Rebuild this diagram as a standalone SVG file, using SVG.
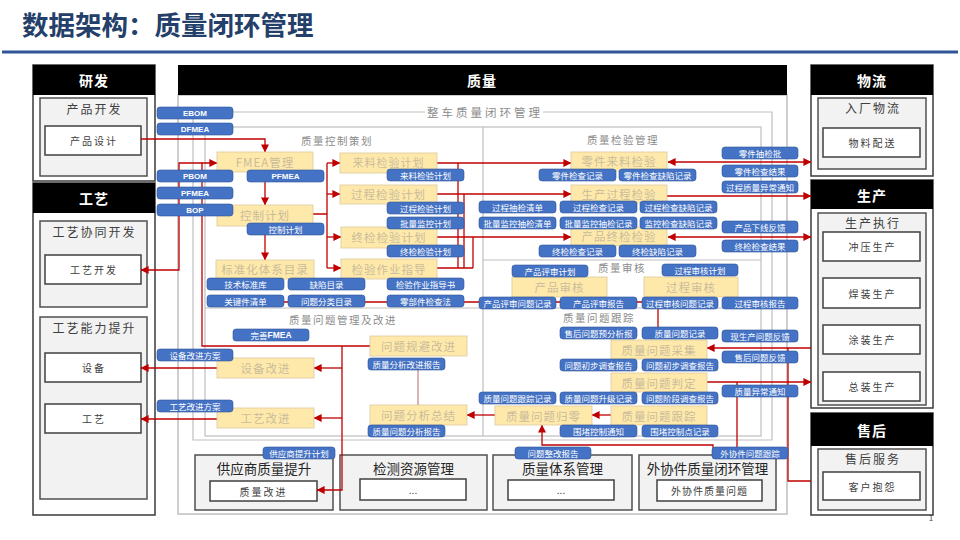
<svg xmlns="http://www.w3.org/2000/svg" width="960" height="540" viewBox="0 0 960 540">
<defs>
<marker id="ah" viewBox="0 0 10 10" refX="9.5" refY="5" markerWidth="8" markerHeight="8" markerUnits="userSpaceOnUse" orient="auto-start-reverse"><path d="M0,0 L10,5 L0,10 z" fill="#C00000"/></marker>
<style>
text{font-family:"Noto Sans CJK SC","Liberation Sans",sans-serif}
.t rect{fill:#4472C4;stroke:#2F5597;stroke-width:.6}
.t text{fill:#fff;font-size:8.5px;text-anchor:middle;dominant-baseline:central}
.t text.en{font-family:"Liberation Sans",sans-serif;font-weight:bold;font-size:8px}
.y rect{fill:#FFE9AA;stroke:#D9C99C;stroke-width:.8}
.y text{fill:#C9BC9C;font-size:11.5px;text-anchor:middle;dominant-baseline:central;letter-spacing:1px}
.hd{fill:#000}
.hdt{fill:#fff;font-size:14px;font-weight:bold;text-anchor:middle;dominant-baseline:central;letter-spacing:1px}
.ob{fill:#fff;stroke:#3A3A3A;stroke-width:1.5}
.gb{fill:#F2F2F2;stroke:#505050;stroke-width:1.5}
.wb{fill:#fff;stroke:#404040;stroke-width:1.5}
.bt{fill:#404040;font-size:12px;text-anchor:middle;dominant-baseline:central;letter-spacing:2px}
.st{fill:#404040;font-size:10px;text-anchor:middle;dominant-baseline:central;letter-spacing:2px}
.qt{fill:#262626;font-size:13.5px;text-anchor:middle;dominant-baseline:central}
.fr{fill:none;stroke:#BFBFBF;stroke-width:1.2}
.sec{fill:#8C8C8C;font-size:10.5px;text-anchor:middle;dominant-baseline:central;letter-spacing:1.5px}
.c path{fill:none;stroke:#C00000;stroke-width:1.3}
</style>
</defs>
<rect width="960" height="540" fill="#fff"/>
<text x="22" y="35" font-size="26.5" font-weight="bold" fill="#253F6B">数据架构：质量闭环管理</text>
<line x1="2" y1="52" x2="958" y2="52" stroke="#2F5597" stroke-width="3"/>

<!-- Quality frame -->
<g id="quality-frame">
<rect x="178" y="95" width="609" height="419" fill="#fff" stroke="#BFBFBF" stroke-width="1.5"/>
<rect class="hd" x="178" y="65" width="609" height="30"/>
<text class="hdt" x="482" y="80">质量</text>
<path class="fr" d="M425,112 H193 V440 H772 V112 H543"/>
<text class="sec" x="485" y="112" style="font-size:11.5px;letter-spacing:3px">整车质量闭环管理</text>
<rect class="fr" x="205" y="127" width="556" height="309"/>
<path class="fr" d="M483,127 V436 M205,308 H761 M483,260 H761"/>
<text class="sec" x="337" y="140">质量控制策划</text>
<text class="sec" x="623" y="139">质量检验管理</text>
<text class="sec" x="622" y="267">质量审核</text>
<text class="sec" x="343" y="319">质量问题管理及改进</text>
<text class="sec" x="599" y="317">质量问题跟踪</text>
</g>

<!-- Left blocks -->
<g id="rd">
<rect class="ob" x="33" y="65" width="122" height="116"/>
<rect class="hd" x="33" y="65" width="122" height="30"/>
<text class="hdt" x="94" y="80">研发</text>
<rect class="gb" x="40" y="98" width="107" height="78"/>
<text class="bt" x="94.5" y="108">产品开发</text>
<rect class="wb" x="45" y="126" width="96" height="29"/>
<text class="st" x="94" y="140.5">产品设计</text>
</g>
<g id="gy">
<rect class="ob" x="33" y="183" width="122" height="332"/>
<rect class="hd" x="33" y="183" width="122" height="30"/>
<text class="hdt" x="94" y="198">工艺</text>
<rect class="gb" x="40" y="221" width="107" height="86"/>
<text class="bt" x="94.5" y="231">工艺协同开发</text>
<rect class="wb" x="45" y="255" width="96" height="29"/>
<text class="st" x="94" y="269.5">工艺开发</text>
<rect class="gb" x="40" y="317" width="107" height="182"/>
<text class="bt" x="94.5" y="327">工艺能力提升</text>
<rect class="wb" x="45" y="353" width="96" height="29"/>
<text class="st" x="94" y="367.5">设备</text>
<rect class="wb" x="45" y="404" width="96" height="29"/>
<text class="st" x="94" y="418.5">工艺</text>
</g>

<!-- Right blocks -->
<g id="wl">
<rect class="ob" x="811" y="65" width="122" height="111"/>
<rect class="hd" x="811" y="65" width="122" height="30"/>
<text class="hdt" x="872" y="80">物流</text>
<rect class="gb" x="818" y="98" width="108" height="71"/>
<text class="bt" x="873" y="107">入厂物流</text>
<rect class="wb" x="823" y="128" width="97" height="29"/>
<text class="st" x="872.5" y="142.5">物料配送</text>
</g>
<g id="sc">
<rect class="ob" x="811" y="180" width="122" height="228"/>
<rect class="hd" x="811" y="180" width="122" height="29"/>
<text class="hdt" x="872" y="194.5">生产</text>
<rect class="gb" x="818" y="213" width="108" height="192"/>
<text class="bt" x="873" y="222">生产执行</text>
<rect class="wb" x="823" y="232" width="97" height="29"/>
<text class="st" x="872.5" y="246.5">冲压生产</text>
<rect class="wb" x="823" y="278" width="97" height="30"/>
<text class="st" x="872.5" y="293">焊装生产</text>
<rect class="wb" x="823" y="325" width="97" height="29"/>
<text class="st" x="872.5" y="339.5">涂装生产</text>
<rect class="wb" x="823" y="372" width="97" height="29"/>
<text class="st" x="872.5" y="386.5">总装生产</text>
</g>
<g id="sh">
<rect class="ob" x="811" y="413" width="122" height="102"/>
<rect class="hd" x="811" y="413" width="122" height="33"/>
<text class="hdt" x="872" y="429.5">售后</text>
<rect class="gb" x="818" y="449" width="108" height="61"/>
<text class="bt" x="873" y="458">售后服务</text>
<rect class="wb" x="823" y="472" width="97" height="28"/>
<text class="st" x="872.5" y="486">客户抱怨</text>
</g>

<!-- Bottom row -->
<g id="b1"><rect class="gb" x="195" y="455" width="138" height="55"/><text class="qt" x="264" y="468">供应商质量提升</text><rect class="wb" x="210" y="481" width="107" height="20"/><text class="st" x="263.5" y="491">质量改进</text></g>
<g id="b2"><rect class="gb" x="340" y="455" width="147" height="55"/><text class="qt" x="413.5" y="468">检测资源管理</text><rect class="wb" x="360" y="479" width="106" height="21"/><text class="st" x="413" y="489.5" style="letter-spacing:0">...</text></g>
<g id="b3"><rect class="gb" x="493" y="455" width="139" height="55"/><text class="qt" x="562.5" y="468">质量体系管理</text><rect class="wb" x="508" y="480" width="106" height="20"/><text class="st" x="561" y="489.5" style="letter-spacing:0">...</text></g>
<g id="b4"><rect class="gb" x="639" y="455" width="137" height="55"/><text class="qt" x="707.5" y="468">外协件质量闭环管理</text><rect class="wb" x="657" y="480" width="105" height="21"/><text class="st" x="709.5" y="490.5" style="letter-spacing:1px">外协件质量问题</text></g>

<!-- Connectors -->
<g id="connectors" class="c">
<path d="M141,139 H265 V152" marker-end="url(#ah)"/>
<path d="M265,182 V205" marker-end="url(#ah)"/>
<path d="M265,235 V260" marker-end="url(#ah)"/>
<path d="M313,214 H327 M327,163 V268"/>
<path d="M327,163 H340" marker-end="url(#ah)"/>
<path d="M327,194 H340" marker-end="url(#ah)"/>
<path d="M327,237 H341" marker-end="url(#ah)"/>
<path d="M327,268 H341" marker-end="url(#ah)"/>
<path d="M437,163 H571" marker-end="url(#ah)"/>
<path d="M437,194 H571" marker-end="url(#ah)"/>
<path d="M437,237 H571" marker-end="url(#ah)"/>
<path d="M437,268 H473 M458,268 V163 M464,268 V194 M473,268 V237"/>
<path d="M668,162 H811" marker-start="url(#ah)" marker-end="url(#ah)"/>
<path d="M667,196 H811" marker-end="url(#ah)"/>
<path d="M668,237 H811" marker-start="url(#ah)" marker-end="url(#ah)"/>
<path d="M284,302 H658 V327"/>
<path d="M811,348 H707" marker-end="url(#ah)"/>
<path d="M811,481 H788 V348"/>
<path d="M707,382 H811" marker-end="url(#ah)"/>
<path d="M737,382 V447"/>
<path d="M611,415 H592" marker-end="url(#ah)"/>
<path d="M495,415 H467" marker-end="url(#ah)"/>
<path d="M713,449 V445 H542 V425" marker-end="url(#ah)"/>
<path d="M418,370 V405" style="stroke:#C48B8B"/>
<path d="M370,346 H202 V163 H217" marker-end="url(#ah)"/>
<path d="M202,163 H179 V270 H141" marker-end="url(#ah)"/>
<path d="M342,346 V490 H317" marker-end="url(#ah)"/>
<path d="M342,368 H314" marker-end="url(#ah)"/>
<path d="M342,418 H314" marker-end="url(#ah)"/>
<path d="M217,368 H141" marker-end="url(#ah)"/>
<path d="M217,419 H141" marker-end="url(#ah)"/>
</g>

<!-- Process boxes -->
<g id="y-fmea" class="y"><rect x="217" y="152" width="96" height="20"/><text x="265" y="161.5">FMEA管理</text></g>
<g id="y-kzjh" class="y"><rect x="217" y="205" width="96" height="21"/><text x="265" y="215">控制计划</text></g>
<g id="y-bzh" class="y"><rect x="216" y="260" width="98" height="19"/><text x="265" y="269">标准化体系目录</text></g>
<g id="y-lljh" class="y"><rect x="340" y="153" width="97" height="20"/><text x="388.5" y="161.5" style="font-size:11px">来料检验计划</text></g>
<g id="y-gcjh" class="y"><rect x="340" y="185" width="97" height="19"/><text x="388.5" y="194">过程检验计划</text></g>
<g id="y-zjjh" class="y"><rect x="341" y="227" width="96" height="21"/><text x="389" y="237">终检检验计划</text></g>
<g id="y-jyzd" class="y"><rect x="341" y="259" width="96" height="20"/><text x="389" y="268.5">检验作业指导</text></g>
<g id="y-lljy" class="y"><rect x="571" y="152" width="96" height="19"/><text x="619" y="161">零件来料检验</text></g>
<g id="y-scgc" class="y"><rect x="571" y="185" width="96" height="18"/><text x="619" y="193.5">生产过程检验</text></g>
<g id="y-cpzj" class="y"><rect x="571" y="227" width="96" height="19"/><text x="619" y="236">产品终检检验</text></g>
<g id="y-cpsh" class="y"><rect x="512" y="277" width="95" height="20"/><text x="559.5" y="287">产品审核</text></g>
<g id="y-gcsh" class="y"><rect x="644" y="277" width="94" height="20"/><text x="691" y="287">过程审核</text></g>
<g id="y-wtgb" class="y"><rect x="370" y="336" width="97" height="20"/><text x="418.5" y="346">问题规避改进</text></g>
<g id="y-sbgj" class="y"><rect x="217" y="358" width="97" height="20"/><text x="265.5" y="368">设备改进</text></g>
<g id="y-gygj" class="y"><rect x="217" y="408" width="97" height="20"/><text x="265.5" y="418">工艺改进</text></g>
<g id="y-wtfx" class="y"><rect x="370" y="405" width="97" height="20"/><text x="418.5" y="415">问题分析总结</text></g>
<g id="y-cj" class="y"><rect x="611" y="340" width="96" height="19"/><text x="659" y="349.5">质量问题采集</text></g>
<g id="y-pd" class="y"><rect x="611" y="373" width="96" height="19"/><text x="659" y="382.5">质量问题判定</text></g>
<g id="y-gz" class="y"><rect x="611" y="406" width="96" height="19"/><text x="659" y="415.5">质量问题跟踪</text></g>
<g id="y-gl" class="y"><rect x="495" y="406" width="97" height="19"/><text x="543.5" y="415.5">质量问题归零</text></g>

<!-- Data tags -->
<g id="t-ebom" class="t"><rect x="157" y="107" width="76" height="12" rx="3"/><text class="en" x="195" y="113">EBOM</text></g>
<g id="t-dfmea" class="t"><rect x="157" y="123" width="76" height="12" rx="3"/><text class="en" x="195" y="129">DFMEA</text></g>
<g id="t-pbom" class="t"><rect x="157" y="170" width="76" height="12" rx="3"/><text class="en" x="195" y="176">PBOM</text></g>
<g id="t-pfmea1" class="t"><rect x="157" y="187" width="76" height="12" rx="3"/><text class="en" x="195" y="193">PFMEA</text></g>
<g id="t-bop" class="t"><rect x="157" y="204" width="76" height="12" rx="3"/><text class="en" x="195" y="210">BOP</text></g>
<g id="t-pfmea2" class="t"><rect x="247" y="170" width="77" height="12" rx="3"/><text class="en" x="285.5" y="176">PFMEA</text></g>
<g id="t-kzjh" class="t"><rect x="247" y="223" width="77" height="12" rx="3"/><text x="285.5" y="229">控制计划</text></g>
<g id="t-jsbz" class="t"><rect x="207" y="278" width="77" height="12" rx="3"/><text x="245.5" y="284">技术标准库</text></g>
<g id="t-gjj" class="t"><rect x="207" y="295" width="77" height="12" rx="3"/><text x="245.5" y="301">关键件清单</text></g>
<g id="t-qxml" class="t"><rect x="288" y="278" width="77" height="12" rx="3"/><text x="326.5" y="284">缺陷目录</text></g>
<g id="t-wtfl" class="t"><rect x="288" y="295" width="77" height="12" rx="3"/><text x="326.5" y="301">问题分类目录</text></g>
<g id="t-jyzds" class="t"><rect x="387" y="278" width="77" height="12" rx="3"/><text x="425.5" y="284">检验作业指导书</text></g>
<g id="t-lbj" class="t"><rect x="387" y="295" width="77" height="12" rx="3"/><text x="425.5" y="301">零部件检查法</text></g>
<g id="t-lljh" class="t"><rect x="387" y="169" width="77" height="12" rx="3"/><text x="425.5" y="175">来料检验计划</text></g>
<g id="t-gcjh" class="t"><rect x="387" y="202" width="77" height="12" rx="3"/><text x="425.5" y="208">过程检验计划</text></g>
<g id="t-plsk" class="t"><rect x="387" y="217" width="77" height="12" rx="3"/><text x="425.5" y="223">批量监控计划</text></g>
<g id="t-zjjh" class="t"><rect x="387" y="245" width="77" height="12" rx="3"/><text x="425.5" y="251">终检检验计划</text></g>
<g id="t-ljjc" class="t"><rect x="539" y="169" width="77" height="12" rx="3"/><text x="577.5" y="175">零件检查记录</text></g>
<g id="t-ljqx" class="t"><rect x="619" y="169" width="77" height="12" rx="3"/><text x="657.5" y="175">零件检查缺陷记录</text></g>
<g id="t-ljcj" class="t"><rect x="722" y="147" width="76" height="12" rx="3"/><text x="760" y="153">零件抽检批</text></g>
<g id="t-ljjg" class="t"><rect x="722" y="165" width="76" height="12" rx="3"/><text x="760" y="171">零件检查结果</text></g>
<g id="t-gcyc" class="t"><rect x="722" y="181" width="76" height="12" rx="3"/><text x="760" y="187">过程质量异常通知</text></g>
<g id="t-gccj" class="t"><rect x="479" y="201" width="77" height="12" rx="3"/><text x="517.5" y="207">过程抽检清单</text></g>
<g id="t-plqd" class="t"><rect x="479" y="217" width="77" height="12" rx="3"/><text x="517.5" y="223">批量监控抽检清单</text></g>
<g id="t-gcjc" class="t"><rect x="560" y="201" width="77" height="12" rx="3"/><text x="598.5" y="207">过程检查记录</text></g>
<g id="t-pljl" class="t"><rect x="560" y="217" width="77" height="12" rx="3"/><text x="598.5" y="223">批量监控抽检记录</text></g>
<g id="t-gcqx" class="t"><rect x="640" y="201" width="77" height="12" rx="3"/><text x="678.5" y="207">过程检查缺陷记录</text></g>
<g id="t-jkqx" class="t"><rect x="640" y="217" width="77" height="12" rx="3"/><text x="678.5" y="223">监控检查缺陷记录</text></g>
<g id="t-cpxx" class="t"><rect x="722" y="221" width="76" height="12" rx="3"/><text x="760" y="227">产品下线反馈</text></g>
<g id="t-zjjc" class="t"><rect x="539" y="245" width="77" height="12" rx="3"/><text x="577.5" y="251">终检检查记录</text></g>
<g id="t-zjqx" class="t"><rect x="619" y="245" width="77" height="12" rx="3"/><text x="657.5" y="251">终检缺陷记录</text></g>
<g id="t-zjjg" class="t"><rect x="722" y="240" width="76" height="12" rx="3"/><text x="760" y="246">终检检查结果</text></g>
<g id="t-cppsjh" class="t"><rect x="512" y="265" width="76" height="12" rx="3"/><text x="550" y="271">产品评审计划</text></g>
<g id="t-gcshjh" class="t"><rect x="662" y="264" width="76" height="12" rx="3"/><text x="700" y="270">过程审核计划</text></g>
<g id="t-cpwt" class="t"><rect x="479" y="297" width="77" height="12" rx="3"/><text x="517.5" y="303">产品评审问题记录</text></g>
<g id="t-cpbg" class="t"><rect x="560" y="297" width="77" height="12" rx="3"/><text x="598.5" y="303">产品评审报告</text></g>
<g id="t-gcwt" class="t"><rect x="642" y="297" width="76" height="12" rx="3"/><text x="680" y="303">过程审核问题记录</text></g>
<g id="t-gcbg" class="t"><rect x="722" y="297" width="76" height="12" rx="3"/><text x="760" y="303">过程审核报告</text></g>
<g id="t-shyfx" class="t"><rect x="560" y="327" width="77" height="12" rx="3"/><text x="598.5" y="333">售后问题预分析报</text></g>
<g id="t-zlwtjl" class="t"><rect x="642" y="327" width="76" height="12" rx="3"/><text x="680" y="333">质量问题记录</text></g>
<g id="t-xsc" class="t"><rect x="722" y="330" width="76" height="12" rx="3"/><text x="760" y="336">现生产问题反馈</text></g>
<g id="t-shfk" class="t"><rect x="722" y="351" width="76" height="12" rx="3"/><text x="760" y="357">售后问题反馈</text></g>
<g id="t-cbdc1" class="t"><rect x="560" y="359" width="77" height="12" rx="3"/><text x="598.5" y="365">问题初步调查报告</text></g>
<g id="t-cbdc2" class="t"><rect x="642" y="359" width="76" height="12" rx="3"/><text x="680" y="365">问题初步调查报告</text></g>
<g id="t-ycth" class="t"><rect x="722" y="385" width="76" height="12" rx="3"/><text x="760" y="391">质量异常通知</text></g>
<g id="t-gzjl" class="t"><rect x="479" y="392" width="77" height="12" rx="3"/><text x="517.5" y="398">质量问题跟踪记录</text></g>
<g id="t-sjjl" class="t"><rect x="560" y="392" width="77" height="12" rx="3"/><text x="598.5" y="398">质量问题升级记录</text></g>
<g id="t-jddc" class="t"><rect x="642" y="392" width="76" height="12" rx="3"/><text x="680" y="398">问题阶段调查报告</text></g>
<g id="t-wdtz" class="t"><rect x="560" y="425" width="77" height="12" rx="3"/><text x="598.5" y="431">围堵控制通知</text></g>
<g id="t-wdjl" class="t"><rect x="642" y="425" width="76" height="12" rx="3"/><text x="680" y="431">围堵控制点记录</text></g>
<g id="t-wsfmea" class="t"><rect x="233" y="329" width="76" height="12" rx="3"/><text x="271" y="335">完善<tspan font-family="Liberation Sans" font-weight="bold">FMEA</tspan></text></g>
<g id="t-sbfa" class="t"><rect x="157" y="349" width="76" height="12" rx="3"/><text x="195" y="355">设备改进方案</text></g>
<g id="t-gyfa" class="t"><rect x="157" y="400" width="76" height="12" rx="3"/><text x="195" y="406">工艺改进方案</text></g>
<g id="t-fxgj" class="t"><rect x="368" y="358" width="77" height="12" rx="3"/><text x="406.5" y="364">质量分析改进报告</text></g>
<g id="t-fxbg" class="t"><rect x="368" y="425" width="77" height="12" rx="3"/><text x="406.5" y="431">质量问题分析报告</text></g>
<g id="t-gysjh" class="t"><rect x="263" y="447" width="72" height="12" rx="3"/><text x="299" y="453">供应商提升计划</text></g>
<g id="t-zgbg" class="t"><rect x="515" y="447" width="76" height="12" rx="3"/><text x="553" y="453">问题整改报告</text></g>
<g id="t-wxgz" class="t"><rect x="712" y="447" width="76" height="12" rx="3"/><text x="750" y="453">外协件问题跟踪</text></g>

<text x="931" y="521" font-size="8" fill="#404040" text-anchor="middle">1</text>
</svg>
